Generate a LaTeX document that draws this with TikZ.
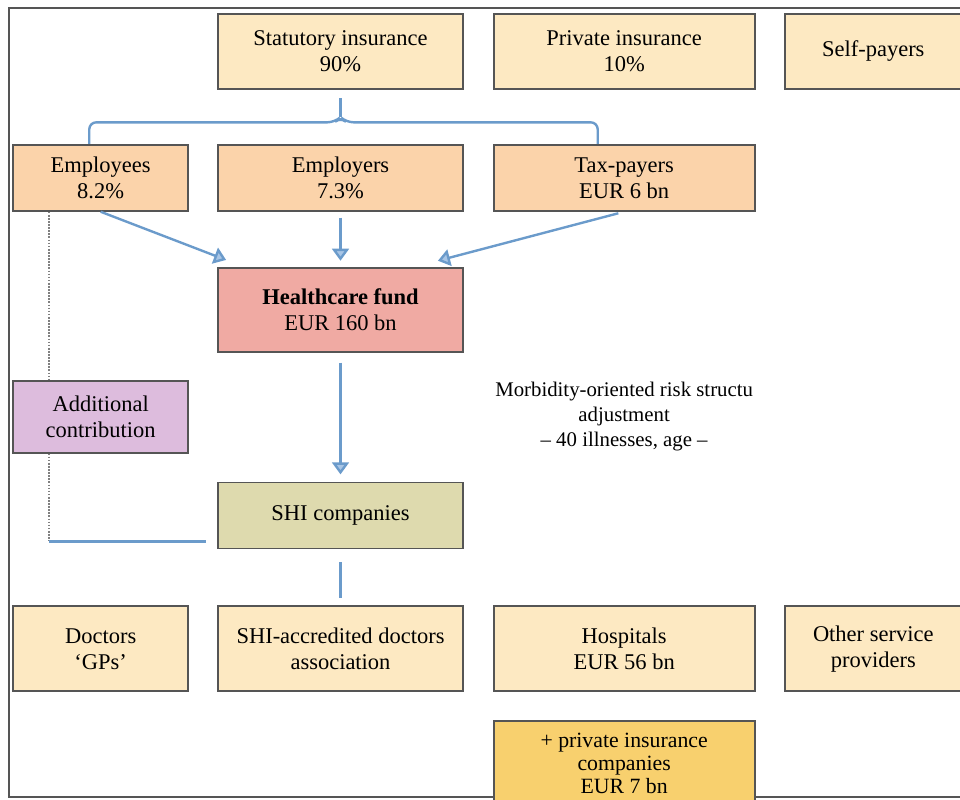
\documentclass[tikz,border=0pt]{standalone}
\usepackage{fontspec}
\setmainfont{Liberation Serif}
\usepackage{xcolor}
\usetikzlibrary{arrows.meta, positioning, calc}
\definecolor{colTop}{HTML}{FDE9C2}
\definecolor{colPayer}{HTML}{FBD3AA}
\definecolor{colFund}{HTML}{F0AAA3}
\definecolor{colAdd}{HTML}{DDBCDD}
\definecolor{colShi}{HTML}{DEDAAE}
\definecolor{colPriv}{HTML}{F8D06E}
\definecolor{colLink}{HTML}{6B9BCB}
\definecolor{colTipFill}{HTML}{A9C6E6}
\definecolor{colEdge}{HTML}{555555}
\definecolor{colFrame}{HTML}{555555}

\begin{document}
\begin{tikzpicture}[
    node distance=0.72cm,
    >=Stealth,
    basebox/.style={
        rectangle, draw=colEdge, line width=1.3pt, align=center,
        inner sep=2pt, font=\fontsize{16}{18.5}\selectfont
    },
    topbox/.style={basebox, fill=colTop, minimum height=1.875cm},
    payerbox/.style={basebox, fill=colPayer, minimum height=1.65cm},
    fundbox/.style={basebox, fill=colFund, minimum width=6.125cm,
        minimum height=2.1cm},
    addbox/.style={basebox, fill=colAdd, minimum width=4.375cm,
        minimum height=1.8cm},
    shibox/.style={basebox, fill=colShi, minimum width=6.125cm,
        minimum height=1.65cm},
    provbox/.style={basebox, fill=colTop, minimum height=2.125cm},
    privbox/.style={basebox, fill=colPriv, minimum width=6.525cm,
        minimum height=2.125cm, font=\fontsize{15.5}{16.5}\selectfont},
    narrowcol/.style={minimum width=4.375cm},
    midcol/.style={minimum width=6.125cm},
    widecol/.style={minimum width=6.525cm},
    edgecol/.style={minimum width=4.4cm},
    notetext/.style={align=center, inner sep=0pt,
        font=\fontsize{14.8}{17.8}\selectfont},
    link/.style={line width=1.7pt, color=colLink},
    flow/.style={link, -{Triangle[width=0.42cm, length=0.3cm, fill=colTipFill]}},
    dotlink/.style={line width=1.2pt, color=gray, densely dotted}
]

    % --- PAGE AND FRAME ---
    \useasboundingbox (0,0) rectangle (24,-19.975);
    \draw[colFrame, line width=1.3pt] (24.2,-0.2) -- (0.225,-0.2)
        -- (0.225,-19.925) -- (24.2,-19.925);

    % --- INSURANCE SECTION ---
    \node[topbox, midcol] (statutory) at (8.5125,-1.2875)
        {Statutory insurance\\90\%};
    \node[topbox, widecol, right=of statutory] (private)
        {Private insurance\\10\%};
    \node[topbox, edgecol, right=of private] (selfpay) {Self-payers};

    % --- CONTRIBUTORS SECTION ---
    \node[payerbox, midcol, below=1.35cm of statutory] (employers)
        {Employers\\7.3\%};
    \node[payerbox, narrowcol, left=0.7cm of employers] (employees)
        {Employees\\8.2\%};
    \node[payerbox, widecol, right=of employers] (taxpayers)
        {Tax-payers\\EUR 6 bn};

    % --- FUND SECTION ---
    \node[fundbox, below=1.375cm of employers] (fund)
        {\textbf{Healthcare fund}\\EUR 160 bn};
    \node[shibox, below=3.225cm of fund] (shi) {SHI companies};
    \node[addbox, below=4.2cm of employees] (additional)
        {Additional\\contribution};
    \node[notetext] (riskadj) at (taxpayers |- additional)
        {Morbidity-oriented risk structu\\adjustment\\-- 40 illnesses, age --};

    % --- PROVIDERS SECTION ---
    \node[provbox, midcol, below=1.4cm of shi] (accredited)
        {SHI-accredited doctors\\association};
    \node[provbox, narrowcol, left=0.7cm of accredited] (doctors)
        {Doctors\\`GPs'};
    \node[provbox, widecol, right=of accredited] (hospitals)
        {Hospitals\\EUR 56 bn};
    \node[provbox, edgecol, right=of hospitals] (others)
        {Other service\\providers};
    \node[privbox, below=0.7cm of hospitals] (privcos)
        {+ private insurance\\companies\\EUR 7 bn};

    % --- BRACE statutory -> contributors ---
    \coordinate (braceL) at ($(employees.north west)+(1.925,0)$);
    \coordinate (braceR) at ($(taxpayers.north west)+(2.625,0)$);
    \coordinate (braceTip) at ($(statutory.south)+(0,-0.68)$);
    \draw[link, rounded corners=5pt] (braceL) |- ($(braceTip)+(-0.15,-0.13)$)
        -- (braceTip) -- ($(braceTip)+(0.15,-0.13)$) -| (braceR);
    \draw[link, shorten >=0.2cm] (braceTip) -- (statutory);

    % --- ARROWS contributors -> fund -> SHI ---
    \coordinate (fundInL) at ($(fund.north west)+(0.225,0.17)$);
    \coordinate (fundInR) at ($(fund.north east)+(-0.65,0.15)$);
    \draw[flow] (employees.south) -- (fundInL);
    \draw[flow, shorten <=0.15cm, shorten >=0.15cm] (employers) -- (fund);
    \draw[flow, shorten <=0.15cm] (taxpayers.south) -- (fundInR);
    \draw[flow, shorten <=0.25cm, shorten >=0.18cm] (fund) -- (shi);
    \draw[link, shorten <=0.32cm, shorten >=0.18cm] (shi) -- (accredited);

    % --- ADDITIONAL CONTRIBUTION path ---
    \coordinate (addTop) at ($(employees.south west)+(0.925,0)$);
    \coordinate (shiIn) at ($(shi.west)+(-0.275,-0.65)$);
    \coordinate (addCorner) at (addTop |- shiIn);
    \draw[dotlink] (addTop) -- (addTop |- additional.north);
    \draw[dotlink] (addTop |- additional.south) -- (addCorner);
    \draw[link] (addCorner) -- (shiIn);

\end{tikzpicture}
\end{document}
